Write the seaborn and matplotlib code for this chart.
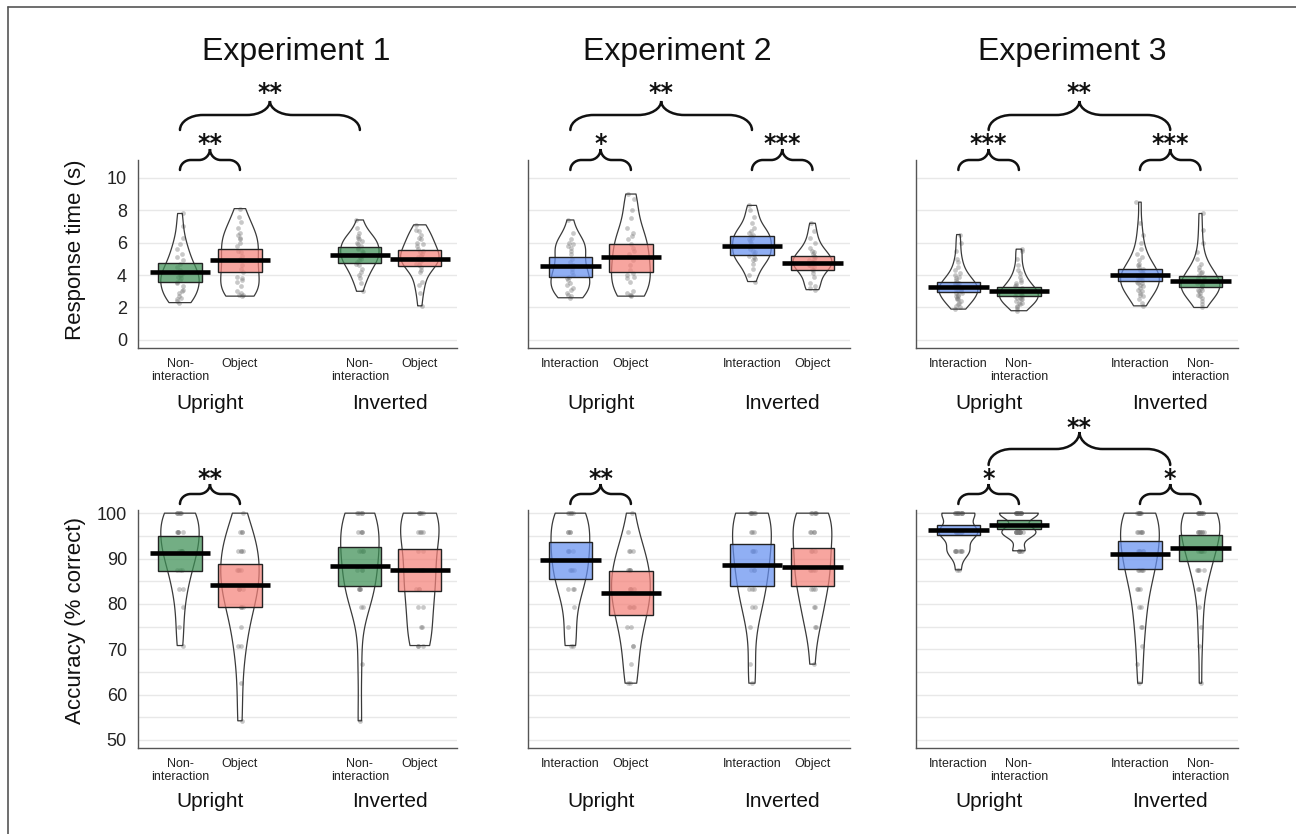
import numpy as np
import pandas as pd
import seaborn as sns
import matplotlib.pyplot as plt
from matplotlib.path import Path
from matplotlib.patches import PathPatch
from matplotlib.lines import Line2D
from matplotlib.colors import to_rgba

# ---- data ----
positions = [0, 1, 3, 4]
groups = ["Upright", "Inverted"]
group_pos = [0.5, 3.5]
titles = ["Experiment 1", "Experiment 2", "Experiment 3"]

e1_labels = ["Non-\ninteraction", "Object", "Non-\ninteraction", "Object"]
e2_labels = ["Interaction", "Object", "Interaction", "Object"]
e3_labels = ["Interaction", "Non-\ninteraction", "Interaction", "Non-\ninteraction"]

# response times (s), one list per bean
rt_e1_up_nonint = [2.3, 2.4, 2.5, 2.6, 2.7, 2.9, 3.0, 3.1, 3.3, 3.5, 3.6, 3.7, 3.8, 3.9,
                   4.0, 4.0, 4.1, 4.3, 4.5, 4.7, 4.9, 5.1, 5.3, 5.6, 5.9, 6.3, 7.0, 7.8]
rt_e1_up_obj = [2.7, 2.75, 2.8, 2.9, 3.0, 3.3, 3.6, 3.7, 3.8, 3.9, 4.2, 4.4, 4.6, 4.9,
                5.0, 5.2, 5.4, 5.5, 5.8, 6.0, 6.2, 6.3, 6.5, 6.6, 6.9, 7.3, 7.6, 8.1]
rt_e1_inv_nonint = [3.0, 3.5, 3.8, 4.0, 4.2, 4.4, 4.6, 4.7, 4.8, 4.9, 5.0, 5.1, 5.2, 5.3,
                    5.4, 5.5, 5.6, 5.7, 5.8, 5.9, 6.0, 6.1, 6.2, 6.3, 6.4, 6.6, 6.9, 7.4]
rt_e1_inv_obj = [2.1, 2.9, 3.4, 3.6, 4.2, 4.3, 4.5, 4.6, 4.7, 4.8, 4.9, 5.0, 5.0, 5.1,
                 5.2, 5.3, 5.4, 5.5, 5.6, 5.8, 5.9, 6.0, 6.2, 6.3, 6.5, 6.7, 6.8, 7.1]

rt_e2_up_int = [2.6, 2.7, 2.8, 2.9, 3.1, 3.2, 3.4, 3.5, 3.7, 3.8, 3.9, 4.0, 4.2,
                4.4, 4.6, 4.8, 5.0, 5.3, 5.5, 5.7, 5.8, 5.9, 6.0, 6.2, 6.6, 7.4]
rt_e2_up_obj = [2.7, 2.75, 2.8, 2.9, 3.0, 3.6, 3.8, 3.9, 4.0, 4.1, 4.3, 4.6, 4.9,
                5.1, 5.3, 5.5, 5.7, 5.9, 6.2, 6.4, 6.6, 6.9, 7.5, 8.0, 8.7, 9.0]
rt_e2_inv_int = [3.6, 4.0, 4.4, 4.7, 4.9, 5.0, 5.1, 5.2, 5.3, 5.4, 5.5, 5.6, 5.8,
                 6.0, 6.1, 6.2, 6.3, 6.4, 6.5, 6.6, 6.7, 6.9, 7.2, 7.6, 8.0, 8.3]
rt_e2_inv_obj = [3.1, 3.2, 3.3, 3.5, 3.9, 4.1, 4.3, 4.4, 4.5, 4.6, 4.6, 4.7, 4.8,
                 4.8, 4.9, 5.0, 5.1, 5.2, 5.3, 5.4, 5.5, 5.7, 6.0, 6.3, 6.7, 7.2]

rt_e3_up_int = [1.9, 2.0, 2.1, 2.2, 2.3, 2.4, 2.5, 2.5, 2.6, 2.7, 2.7, 2.8, 2.9, 2.9,
                3.0, 3.0, 3.1, 3.1, 3.2, 3.2, 3.3, 3.3, 3.4, 3.4, 3.5, 3.5, 3.6, 3.7,
                3.8, 3.9, 4.0, 4.1, 4.3, 4.5, 4.8, 5.0, 5.5, 6.0, 6.5]
rt_e3_up_nonint = [1.8, 1.9, 2.0, 2.1, 2.2, 2.3, 2.3, 2.4, 2.5, 2.5, 2.6, 2.6, 2.7,
                   2.7, 2.8, 2.8, 2.9, 2.9, 3.0, 3.0, 3.1, 3.1, 3.2, 3.3, 3.4, 3.5,
                   3.6, 3.7, 3.9, 4.1, 4.3, 4.6, 5.0, 5.5, 5.6]
rt_e3_inv_int = [2.1, 2.3, 2.5, 2.7, 2.8, 2.9, 3.0, 3.1, 3.2, 3.3, 3.4, 3.5, 3.5,
                 3.6, 3.7, 3.8, 3.8, 3.9, 4.0, 4.0, 4.1, 4.2, 4.3, 4.4, 4.5, 4.6,
                 4.7, 4.9, 5.1, 5.3, 5.6, 6.0, 6.5, 7.2, 8.5]
rt_e3_inv_nonint = [2.0, 2.2, 2.4, 2.6, 2.7, 2.8, 2.9, 3.0, 3.1, 3.1, 3.2, 3.3, 3.3,
                    3.4, 3.5, 3.5, 3.6, 3.7, 3.8, 3.9, 4.0, 4.1, 4.2, 4.3, 4.5, 4.7,
                    5.0, 5.4, 6.0, 6.8, 7.8]

# accuracy (% correct), steps of 1/24
acc_e1_up_nonint = [100, 100, 100, 100, 100, 100, 95.8, 95.8, 95.8, 95.8, 95.8, 91.7,
                    91.7, 91.7, 91.7, 91.7, 87.5, 87.5, 87.5, 83.3, 83.3, 79.2, 75.0, 70.8]
acc_e1_up_obj = [100, 95.8, 95.8, 95.8, 91.7, 91.7, 91.7, 91.7, 87.5, 87.5, 87.5, 87.5,
                 83.3, 83.3, 83.3, 83.3, 79.2, 79.2, 79.2, 75.0, 70.8, 70.8, 62.5, 54.2]
acc_e1_inv_nonint = [100, 100, 100, 100, 100, 95.8, 95.8, 95.8, 95.8, 91.7, 91.7, 91.7,
                     91.7, 87.5, 87.5, 87.5, 83.3, 83.3, 83.3, 83.3, 79.2, 79.2, 66.7, 54.2]
acc_e1_inv_obj = [100, 100, 100, 100, 100, 95.8, 95.8, 95.8, 95.8, 91.7, 91.7, 87.5,
                  87.5, 87.5, 83.3, 83.3, 83.3, 79.2, 79.2, 75.0, 75.0, 70.8, 70.8, 70.8]

acc_e2_up_int = [100, 100, 100, 100, 100, 95.8, 95.8, 95.8, 95.8, 91.7, 91.7, 91.7,
                 91.7, 87.5, 87.5, 87.5, 87.5, 83.3, 83.3, 83.3, 79.2, 75.0, 70.8, 70.8]
acc_e2_up_obj = [100, 95.8, 91.7, 91.7, 91.7, 87.5, 87.5, 87.5, 87.5, 83.3, 83.3, 83.3,
                 83.3, 79.2, 79.2, 79.2, 79.2, 75.0, 75.0, 70.8, 70.8, 66.7, 62.5, 62.5]
acc_e2_inv_int = [100, 100, 100, 100, 100, 100, 95.8, 95.8, 95.8, 91.7, 91.7, 91.7,
                  91.7, 87.5, 87.5, 87.5, 83.3, 83.3, 83.3, 79.2, 79.2, 75.0, 66.7, 62.5]
acc_e2_inv_obj = [100, 100, 100, 100, 100, 95.8, 95.8, 95.8, 95.8, 91.7, 91.7, 91.7,
                  87.5, 87.5, 87.5, 87.5, 83.3, 83.3, 83.3, 79.2, 79.2, 75.0, 75.0, 66.7]

acc_e3_up_int = [100, 100, 100, 100, 100, 100, 100, 100, 100, 100, 100, 100,
                 95.8, 95.8, 95.8, 95.8, 95.8, 95.8, 95.8, 95.8, 95.8, 95.8, 95.8, 95.8,
                 95.8, 95.8, 91.7, 91.7, 91.7, 91.7, 91.7, 91.7, 91.7, 91.7, 87.5, 87.5]
acc_e3_up_nonint = [100, 100, 100, 100, 100, 100, 100, 100, 100, 100, 100, 100,
                    100, 100, 100, 100, 95.8, 95.8, 95.8, 95.8, 95.8, 95.8, 95.8, 95.8,
                    95.8, 95.8, 95.8, 95.8, 95.8, 95.8, 91.7, 91.7, 91.7, 91.7, 91.7]
acc_e3_inv_int = [100, 100, 100, 100, 100, 100, 100, 100, 95.8, 95.8, 95.8, 95.8,
                  95.8, 95.8, 91.7, 91.7, 91.7, 91.7, 91.7, 91.7, 87.5, 87.5, 87.5, 87.5,
                  87.5, 83.3, 83.3, 83.3, 79.2, 79.2, 75.0, 75.0, 70.8, 66.7, 62.5]
acc_e3_inv_nonint = [100, 100, 100, 100, 100, 100, 100, 100, 100, 100, 95.8, 95.8,
                     95.8, 95.8, 95.8, 95.8, 95.8, 95.8, 91.7, 91.7, 91.7, 91.7, 91.7,
                     91.7, 87.5, 87.5, 87.5, 87.5, 83.3, 83.3, 79.2, 75.0, 70.8, 62.5]

# bean means and interval bounds (box top / bottom)
rt_e1_mean = [4.20, 4.94, 5.25, 5.00]
rt_e1_lo = [3.60, 4.20, 4.73, 4.53]
rt_e1_hi = [4.77, 5.60, 5.76, 5.56]
rt_e2_mean = [4.53, 5.10, 5.80, 4.77]
rt_e2_lo = [3.90, 4.22, 5.25, 4.32]
rt_e2_hi = [5.10, 5.93, 6.42, 5.19]
rt_e3_mean = [3.29, 3.02, 4.01, 3.64]
rt_e3_lo = [2.98, 2.72, 3.66, 3.25]
rt_e3_hi = [3.60, 3.25, 4.38, 3.95]

acc_e1_mean = [91.2, 84.2, 88.4, 87.5]
acc_e1_lo = [87.3, 79.4, 84.0, 82.9]
acc_e1_hi = [95.0, 88.8, 92.6, 92.1]
acc_e2_mean = [89.7, 82.5, 88.6, 88.2]
acc_e2_lo = [85.5, 77.6, 84.0, 84.0]
acc_e2_hi = [93.7, 87.3, 93.2, 92.4]
acc_e3_mean = [96.2, 97.5, 90.9, 92.3]
acc_e3_lo = [95.1, 96.5, 87.7, 89.5]
acc_e3_hi = [97.4, 98.6, 93.9, 95.1]

# significance brackets: (from, to, tier, stars)
rt_e1_sig = [(0, 1, 0, "**"), (0, 3, 1, "**")]
rt_e2_sig = [(0, 1, 0, "*"), (3, 4, 0, "***"), (0, 3, 1, "**")]
rt_e3_sig = [(0, 1, 0, "***"), (3, 4, 0, "***"), (0.5, 3.5, 1, "**")]
acc_e1_sig = [(0, 1, 0, "**")]
acc_e2_sig = [(0, 1, 0, "**")]
acc_e3_sig = [(0, 1, 0, "*"), (3, 4, 0, "*"), (0.5, 3.5, 1, "**")]

# ---- styling ----
GREEN = "#3d8f55"
RED = "#f4827a"
BLUE = "#6690f0"
e1_colors = [GREEN, RED, GREEN, RED]
e2_colors = [BLUE, RED, BLUE, RED]
e3_colors = [BLUE, GREEN, BLUE, GREEN]

FIG_W, FIG_H = 1296, 834
STAR_SIZE = 17

sns.set_style("white")
plt.rcParams["font.family"] = ["Liberation Sans", "DejaVu Sans"]


def px_frac(ax, py):
    """figure pixel row (from top) -> axes fraction"""
    pos = ax.get_position()
    return ((1 - py / FIG_H) - pos.y0) / pos.height


def brace(ax, x1, x2, y_tip, y_mid, y_peak, r):
    xm = (x1 + x2) / 2
    k = 0.55
    verts = [
        (x1, y_tip),
        (x1, y_tip + k * (y_mid - y_tip)), (x1 + r * (1 - k), y_mid), (x1 + r, y_mid),
        (xm - r, y_mid),
        (xm - r * (1 - k), y_mid), (xm, y_peak - k * (y_peak - y_mid)), (xm, y_peak),
        (xm, y_peak - k * (y_peak - y_mid)), (xm + r * (1 - k), y_mid), (xm + r, y_mid),
        (x2 - r, y_mid),
        (x2 - r * (1 - k), y_mid), (x2, y_tip + k * (y_mid - y_tip)), (x2, y_tip),
    ]
    codes = ([Path.MOVETO] + [Path.CURVE4] * 3 + [Path.LINETO] + [Path.CURVE4] * 6
             + [Path.LINETO] + [Path.CURVE4] * 3)
    patch = PathPatch(Path(verts, codes), fill=False, lw=1.8, color="#111111",
                      transform=ax.get_xaxis_transform(), clip_on=False, capstyle="round")
    ax.add_patch(patch)


# pixel rows of brace parts: (tip, horizontal, peak, star centre) per tier
brace_rows = {
    "rt": [(170, 160, 149, 137), (130, 115, 101, 86)],
    "acc": [(504, 494, 484, 472), (465, 449, 432, 421)],
}
brace_radius = [0.18, 0.38]


def draw_panel(ax, samples, means, lo, hi, colors, labels, sig, kind, first):
    df = pd.concat([pd.DataFrame({"pos": p, "val": s}) for p, s in zip(positions, samples)])

    sns.stripplot(data=df, x="pos", y="val", native_scale=True, jitter=0.06, size=3.4,
                  color="#777777", alpha=0.4, linewidth=0, ax=ax, zorder=2)
    sns.violinplot(data=df, x="pos", y="val", native_scale=True, cut=0, inner=None,
                   fill=False, color="#3a3a3a", linewidth=0.9, density_norm="width",
                   width=0.64, bw_adjust=0.9, ax=ax, zorder=3)

    face = [to_rgba(c, 0.72) for c in colors]
    ax.bar(positions, np.subtract(hi, lo), bottom=lo, width=0.72, color=face,
           edgecolor="#222222", linewidth=1.0, zorder=4)
    ax.hlines(means, np.subtract(positions, 0.5), np.add(positions, 0.5),
              colors="black", lw=3.3, zorder=5)

    ax.set_xlim(-0.7, 4.62)
    if kind == "rt":
        ax.set_ylim(-0.5, 11.1)
        ax.set_yticks([0, 2, 4, 6, 8, 10])
    else:
        ax.set_ylim(48.2, 100.7)
        ax.set_yticks([50, 60, 70, 80, 90, 100])
        ax.set_yticks([55, 65, 75, 85, 95], minor=True)
    ax.grid(axis="y", which="both", color="#e8e8e8", lw=1.0)
    ax.set_axisbelow(True)

    ax.set_xticks(positions)
    ax.set_xticklabels(labels, fontsize=9, color="#222222", linespacing=1.15)
    ax.set_xlabel("")
    ax.set_ylabel("")
    ax.tick_params(axis="both", which="both", length=4, width=1, color="#555555")
    ax.tick_params(axis="x", pad=3)
    ax.tick_params(axis="y", labelsize=13, labelcolor="#222222", pad=4)
    if not first:
        ax.tick_params(axis="y", which="both", labelleft=False)

    sns.despine(ax=ax)
    for side in ["left", "bottom"]:
        ax.spines[side].set_color("#555555")
        ax.spines[side].set_linewidth(1.0)

    # group names under the tick labels
    base_px = 409 if kind == "rt" else 807
    for gname, gx in zip(groups, group_pos):
        ax.text(gx, px_frac(ax, base_px), gname, transform=ax.get_xaxis_transform(),
                ha="center", va="baseline", fontsize=15, color="#111111")

    # significance braces
    em_px = STAR_SIZE * 100 / 72
    for x1, x2, tier, stars in sig:
        tip, mid, peak, star = brace_rows[kind][tier]
        brace(ax, x1, x2, px_frac(ax, tip), px_frac(ax, mid), px_frac(ax, peak),
              brace_radius[tier])
        ax.text((x1 + x2) / 2, px_frac(ax, star + 0.59 * em_px), stars,
                transform=ax.get_xaxis_transform(), ha="center", va="baseline",
                fontsize=STAR_SIZE, fontweight="bold", color="#111111",
                family="DejaVu Sans")


fig = plt.figure(figsize=(FIG_W / 100, FIG_H / 100), dpi=100)

col_left = [138, 528, 916]
col_width = [319, 322, 322]
row_top = {"rt": 160, "acc": 510}
row_bottom = {"rt": 348, "acc": 748}


def make_ax(col, kind):
    l = col_left[col] / FIG_W
    w = col_width[col] / FIG_W
    b = 1 - row_bottom[kind] / FIG_H
    h = (row_bottom[kind] - row_top[kind]) / FIG_H
    return fig.add_axes([l, b, w, h])


rt_samples = [
    [rt_e1_up_nonint, rt_e1_up_obj, rt_e1_inv_nonint, rt_e1_inv_obj],
    [rt_e2_up_int, rt_e2_up_obj, rt_e2_inv_int, rt_e2_inv_obj],
    [rt_e3_up_int, rt_e3_up_nonint, rt_e3_inv_int, rt_e3_inv_nonint],
]
acc_samples = [
    [acc_e1_up_nonint, acc_e1_up_obj, acc_e1_inv_nonint, acc_e1_inv_obj],
    [acc_e2_up_int, acc_e2_up_obj, acc_e2_inv_int, acc_e2_inv_obj],
    [acc_e3_up_int, acc_e3_up_nonint, acc_e3_inv_int, acc_e3_inv_nonint],
]
rt_stats = [(rt_e1_mean, rt_e1_lo, rt_e1_hi), (rt_e2_mean, rt_e2_lo, rt_e2_hi),
            (rt_e3_mean, rt_e3_lo, rt_e3_hi)]
acc_stats = [(acc_e1_mean, acc_e1_lo, acc_e1_hi), (acc_e2_mean, acc_e2_lo, acc_e2_hi),
             (acc_e3_mean, acc_e3_lo, acc_e3_hi)]
all_labels = [e1_labels, e2_labels, e3_labels]
all_colors = [e1_colors, e2_colors, e3_colors]
rt_sigs = [rt_e1_sig, rt_e2_sig, rt_e3_sig]
acc_sigs = [acc_e1_sig, acc_e2_sig, acc_e3_sig]

for i in range(3):
    ax = make_ax(i, "rt")
    m, lo, hi = rt_stats[i]
    draw_panel(ax, rt_samples[i], m, lo, hi, all_colors[i], all_labels[i], rt_sigs[i],
               "rt", i == 0)
    ax = make_ax(i, "acc")
    m, lo, hi = acc_stats[i]
    draw_panel(ax, acc_samples[i], m, lo, hi, all_colors[i], all_labels[i], acc_sigs[i],
               "acc", i == 0)

# titles and y labels
title_x = [296, 677, 1072]
for t, x in zip(titles, title_x):
    fig.text(x / FIG_W, 1 - 60 / FIG_H, t, ha="center", va="baseline", fontsize=23,
             color="#111111")
fig.text(76 / FIG_W, 1 - 250 / FIG_H, "Response time (s)", rotation=90,
         ha="center", va="center", fontsize=16, color="#111111")
fig.text(76 / FIG_W, 1 - 620 / FIG_H, "Accuracy (% correct)", rotation=90,
         ha="center", va="center", fontsize=16, color="#111111")

# thin frame on the top and left edges, as in the source image
fig.add_artist(Line2D([8 / FIG_W, 1], [1 - 7 / FIG_H] * 2, color="#555555", lw=1.2))
fig.add_artist(Line2D([8 / FIG_W] * 2, [0, 1 - 7 / FIG_H], color="#555555", lw=1.2))

fig.savefig("out.png", dpi=100)
